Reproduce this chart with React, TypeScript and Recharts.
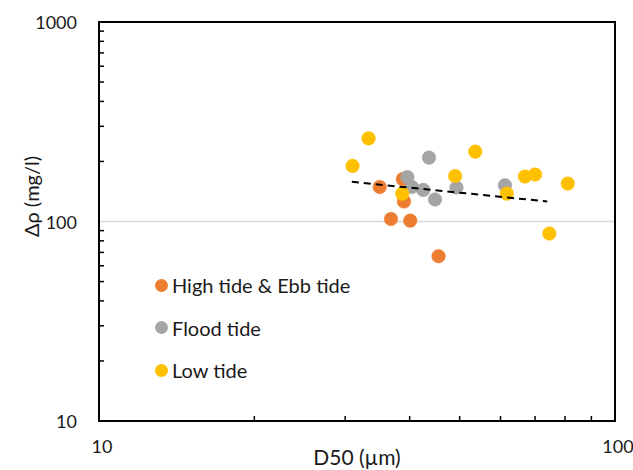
import React from 'react';
import {
  ScatterChart,
  Scatter,
  XAxis,
  YAxis,
  CartesianGrid,
  ReferenceArea,
  Legend,
} from 'recharts';

// D50 (µm) vs Δρ (mg/l)
const highEbbD50 = [38.8, 35.0, 39.0, 36.8, 40.1, 45.5];
const highEbbRho = [163, 149, 126, 103, 101, 67];

const floodD50 = [43.6, 39.6, 40.4, 42.5, 44.8, 49.3, 61.2];
const floodRho = [209, 167, 149, 144, 129, 148, 152];

const lowD50 = [33.3, 31.0, 53.6, 49.0, 38.7, 61.7, 66.9, 70.0, 81.0, 74.6];
const lowRho = [261, 190, 224, 169, 138, 138, 168, 172, 155, 87];

const trendD50 = [30.9, 73.9];
const trendRho = [158, 126];

const seriesNames = ['High tide & Ebb tide', 'Flood tide', 'Low tide'];

const xTicks = [10, 20, 30, 40, 50, 60, 70, 80, 90, 100];
const yTicks = [10, 20, 30, 40, 50, 60, 70, 80, 90, 100, 200, 300, 400, 500, 600, 700, 800, 900, 1000];
const majorTicks = [10, 100, 1000];
const gridValues = [100];

const FONT = 'Lato, "Open Sans", sans-serif';
const TEXT = '#1a1a1a';

const toPoints = (xs: number[], ys: number[]) => xs.map((x, i) => ({ x, y: ys[i] }));

const dot = (color: string) => (props: any) => (
  <circle cx={props.cx} cy={props.cy} r={6.8} fill={color} stroke={color} strokeWidth={0.5} />
);

function XTick({ x, y, payload }: any) {
  if (majorTicks.includes(payload.value)) {
    return (
      <text x={x + 3} y={y + 25} textAnchor="middle" dominantBaseline="central"
        fontFamily={FONT} fontSize={18} fill={TEXT}>
        {payload.value}
      </text>
    );
  }
  return <line x1={x} y1={y} x2={x} y2={y - 5} stroke="#000" strokeWidth={1.5} />;
}

function YTick({ x, y, payload }: any) {
  if (majorTicks.includes(payload.value)) {
    return (
      <text x={x - 22} y={y} textAnchor="end" dominantBaseline="central"
        fontFamily={FONT} fontSize={18} fill={TEXT}>
        {payload.value}
      </text>
    );
  }
  return <line x1={x} y1={y} x2={x + 5} y2={y} stroke="#000" strokeWidth={1.5} />;
}

function LegendBox({ payload }: any) {
  const items = seriesNames
    .map((name) => (payload || []).find((p: any) => p.value === name))
    .filter(Boolean);
  return (
    <div style={{ fontFamily: FONT, fontSize: 20, color: TEXT }}>
      {items.map((item: any) => (
        <div key={item.value} style={{ display: 'flex', alignItems: 'center', height: 42.5 }}>
          <span style={{ width: 13, height: 13, borderRadius: '50%', background: item.color, marginRight: 4 }} />
          <span>{item.value}</span>
        </div>
      ))}
    </div>
  );
}

export default function App() {
  return (
    <div style={{ position: 'absolute', left: 0, top: 0, width: 633, height: 470, background: '#fff' }}>
      <ScatterChart width={633} height={470} margin={{ top: 22, right: 18, bottom: 0, left: 0 }}>
        <CartesianGrid
          vertical={false}
          stroke="#d9d9d9"
          strokeWidth={1.5}
          horizontalValues={gridValues}
        />
        <XAxis
          dataKey="x"
          type="number"
          scale="log"
          domain={[10, 100]}
          ticks={xTicks}
          interval={0}
          allowDataOverflow
          axisLine={false}
          tickLine={false}
          tickSize={0}
          tickMargin={0}
          tick={<XTick />}
          height={49}
          label={{
            value: 'D50 (µm)',
            position: 'insideBottom',
            offset: 5,
            style: { fontFamily: FONT, fontSize: 21, fill: TEXT },
          }}
        />
        <YAxis
          dataKey="y"
          type="number"
          scale="log"
          domain={[10, 1000]}
          ticks={yTicks}
          interval={0}
          allowDataOverflow
          axisLine={false}
          tickLine={false}
          tickSize={0}
          tickMargin={0}
          tick={<YTick />}
          width={99}
          label={{
            content: (props: any) => {
              const vb = props.viewBox;
              const cx = 31;
              const cy = vb.y + vb.height / 2 - 25;
              return (
                <text x={cx} y={cy} transform={`rotate(-90, ${cx}, ${cy})`} textAnchor="middle"
                  dominantBaseline="central" fontFamily={FONT} fontSize={20} fill={TEXT}>
                  Δρ (mg/l)
                </text>
              );
            },
          }}
        />
        <ReferenceArea x1={10} x2={100} y1={10} y2={1000} fill="none" stroke="#000" strokeWidth={2} />
        <Legend
          layout="vertical"
          align="center"
          verticalAlign="middle"
          content={<LegendBox />}
          wrapperStyle={{ left: 155, top: 264, width: 260, bottom: 'auto' }}
        />
        <Scatter name="High tide & Ebb tide" data={toPoints(highEbbD50, highEbbRho)} fill="#ED7D31"
          shape={dot('#ED7D31')} isAnimationActive={false} />
        <Scatter name="Flood tide" data={toPoints(floodD50, floodRho)} fill="#A5A5A5"
          shape={dot('#A5A5A5')} isAnimationActive={false} />
        <Scatter name="Low tide" data={toPoints(lowD50, lowRho)} fill="#FFC000"
          shape={dot('#FFC000')} isAnimationActive={false} />
        <Scatter name="trend" legendType="none" data={toPoints(trendD50, trendRho)}
          line={{ stroke: '#000', strokeWidth: 2, strokeDasharray: '7 5' }}
          shape={() => null} isAnimationActive={false} />
      </ScatterChart>
    </div>
  );
}
